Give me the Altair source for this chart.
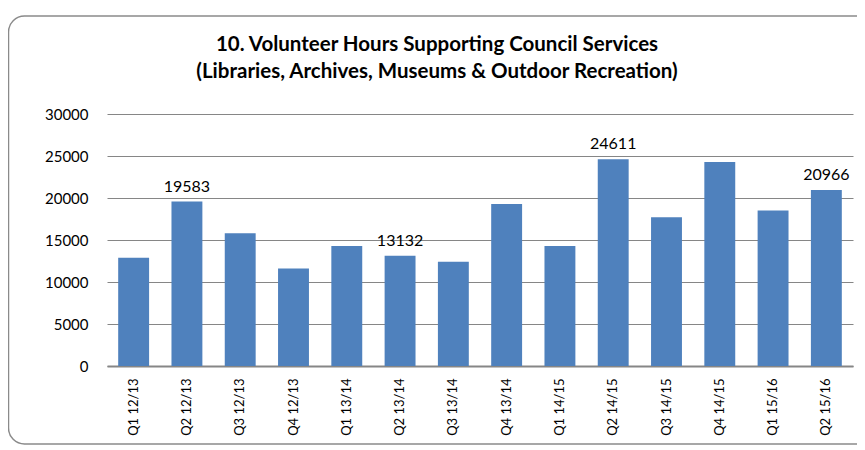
import altair as alt
import pandas as pd

quarters = ["Q1 12/13", "Q2 12/13", "Q3 12/13", "Q4 12/13",
            "Q1 13/14", "Q2 13/14", "Q3 13/14", "Q4 13/14",
            "Q1 14/15", "Q2 14/15", "Q3 14/15", "Q4 14/15",
            "Q1 15/16", "Q2 15/16"]
hours = [12900, 19583, 15800, 11600,
         14300, 13132, 12400, 19300,
         14300, 24611, 17700, 24300,
         18500, 20966]
labelled = ["Q2 12/13", "Q2 13/14", "Q2 14/15", "Q2 15/16"]
title_lines = ["10. Volunteer Hours Supporting Council Services",
               "(Libraries, Archives, Museums & Outdoor Recreation)"]

df = pd.DataFrame({"quarter": quarters, "hours": hours})
df["label"] = [str(h) if q in labelled else "" for q, h in zip(quarters, hours)]

FONT = "Lato"

x_enc = alt.X("quarter:N", sort=quarters, title=None,
              scale=alt.Scale(paddingInner=0.42, paddingOuter=0.21),
              axis=alt.Axis(labelAngle=-90, labelAlign="right", labelBaseline="middle",
                            labelFontSize=13, labelPadding=12, ticks=False,
                            domainColor="#868686", domainWidth=2, labelColor="#000000",
                            labelFont=FONT))
y_enc = alt.Y("hours:Q", title=None,
              scale=alt.Scale(domain=[0, 30000], nice=False),
              axis=alt.Axis(values=[0, 5000, 10000, 15000, 20000, 25000, 30000],
                            format="d", labelFontSize=15, labelPadding=19, ticks=False,
                            domain=False, grid=True, gridColor="#868686", gridWidth=1,
                            labelColor="#000000", labelFont=FONT))

frame = alt.Chart(pd.DataFrame({"a": [0]})).mark_rect(
    fill=None, stroke="#8a8a8a", strokeWidth=1.5, cornerRadius=16
).encode(x=alt.value(-98.5), x2=alt.value(900), y=alt.value(-98), y2=alt.value(330))

title1 = alt.Chart(pd.DataFrame({"t": [title_lines[0]]})).mark_text(
    font=FONT, fontSize=20.5, fontWeight="bold", color="#000000", align="center",
    baseline="middle").encode(x=alt.value(330), y=alt.value(-69), text="t:N")
title2 = alt.Chart(pd.DataFrame({"t": [title_lines[1]]})).mark_text(
    font=FONT, fontSize=20.5, fontWeight="bold", color="#000000", align="center",
    baseline="middle").encode(x=alt.value(330), y=alt.value(-42), text="t:N")

bars = alt.Chart(df).mark_bar(color="#4F81BD").encode(x=x_enc, y=y_enc)

labels = alt.Chart(df).mark_text(baseline="bottom", dy=-7, fontSize=16,
                                 font=FONT, color="#000000").encode(
    x=alt.X("quarter:N", sort=quarters), y="hours:Q", text="label:N")

chart = alt.layer(frame, title1, title2, bars, labels).properties(
    width=746, height=252,
    autosize=alt.AutoSizeParams(type="none"),
    padding={"left": 99, "top": 106, "right": 4, "bottom": 82},
).configure_view(stroke=None)

chart.save("out.html", embed_options={"renderer": "svg", "actions": False})
